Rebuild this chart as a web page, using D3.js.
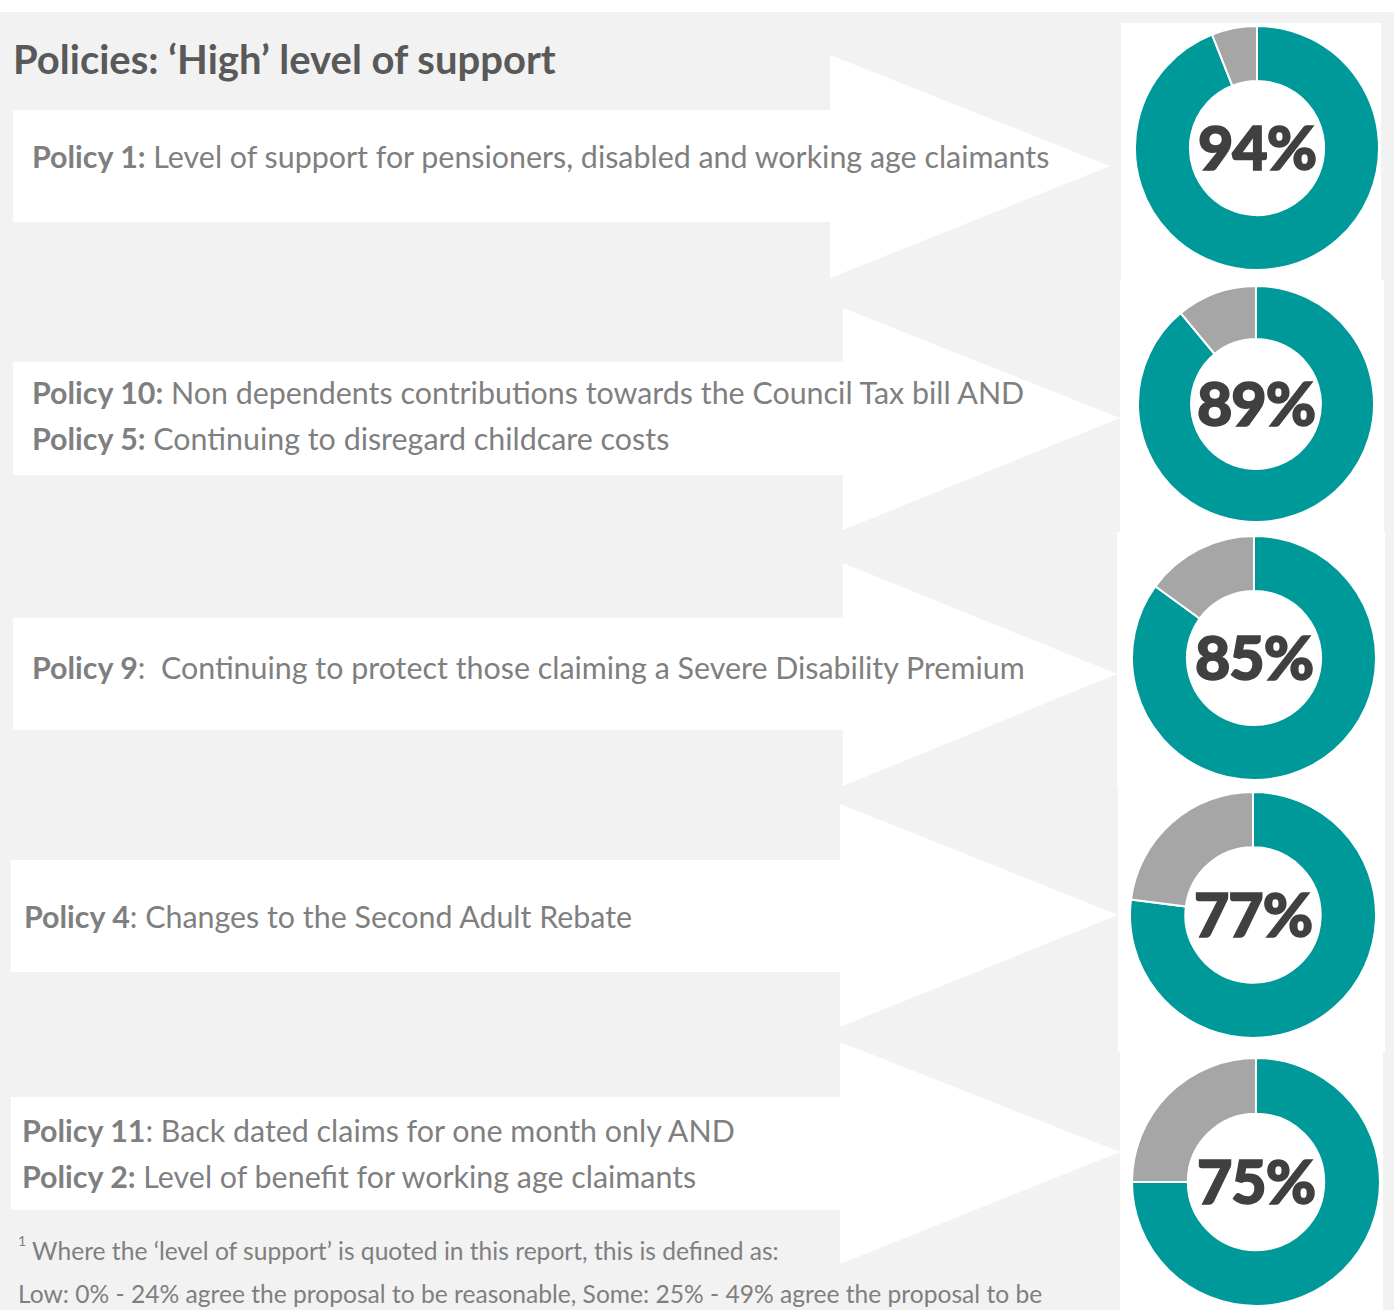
<!DOCTYPE html>
<html>
<head>
<meta charset="utf-8">
<script src="https://cdn.jsdelivr.net/npm/d3@7"></script>
<style>
  body { margin: 0; background: #fff; }
  svg { display: block; }
  text { font-family: Lato, "Open Sans", sans-serif; white-space: pre; }
</style>
</head>
<body>
<div id="chart"></div>
<script>
// data
const title = "Policies: \u2018High\u2019 level of support";
const policyBold = [
  ["Policy 1:"],
  ["Policy 10:", "Policy 5:"],
  ["Policy 9"],
  ["Policy 4"],
  ["Policy 11", "Policy 2:"]
];
const policyText = [
  [" Level of support for pensioners, disabled and working age claimants"],
  [" Non dependents contributions towards the Council Tax bill AND", " Continuing to disregard childcare costs"],
  [":  Continuing to protect those claiming a Severe Disability Premium"],
  [": Changes to the Second Adult Rebate"],
  [": Back dated claims for one month only AND", " Level of benefit for working age claimants"]
];
const highSupport = [94, 89, 85, 77, 75];
const footnoteLines = [
  "Where the \u2018level of support\u2019 is quoted in this report, this is defined as:",
  "Low: 0% - 24% agree the proposal to be reasonable, Some: 25% - 49% agree the proposal to be"
];

// layout of each row (arrow shape, text, donut)
const rows = [
  { bx0: 13, bx1: 830, by0: 110, by1: 222, hy0: 55,   hy1: 278,  tipX: 1110, tipY: 166,  tx: 32, ty: [157],        cx: 1257, cy: 148,  r: 122, box: [1121, 23, 1381, 280] },
  { bx0: 13, bx1: 843, by0: 362, by1: 475, hy0: 308,  hy1: 530,  tipX: 1120, tipY: 418,  tx: 32, ty: [393, 439],   cx: 1256, cy: 404,  r: 118, box: [1120, 280, 1384, 532] },
  { bx0: 13, bx1: 843, by0: 618, by1: 730, hy0: 563,  hy1: 786,  tipX: 1117, tipY: 674,  tx: 32, ty: [668],        cx: 1254, cy: 658,  r: 122, box: [1117, 532, 1385, 787] },
  { bx0: 11, bx1: 840, by0: 860, by1: 972, hy0: 804,  hy1: 1027, tipX: 1118, tipY: 915,  tx: 24, ty: [917],        cx: 1253, cy: 915,  r: 123, box: [1118, 787, 1385, 1052] },
  { bx0: 11, bx1: 840, by0: 1097, by1: 1210, hy0: 1042, hy1: 1264, tipX: 1120, tipY: 1152, tx: 22, ty: [1131, 1177], cx: 1256, cy: 1182, r: 124, box: [1120, 1052, 1383, 1310] }
];

const width = 1394, height = 1310;
const teal = "#009999", grey = "#a6a6a6";

const svg = d3.select("#chart").append("svg")
  .attr("width", width)
  .attr("height", height);

// grey panel
svg.append("rect")
  .attr("x", 0).attr("y", 12)
  .attr("width", width).attr("height", height - 12)
  .attr("fill", "#f2f2f2");

// white boxes behind the donuts
svg.append("g").selectAll("rect")
  .data(rows)
  .join("rect")
  .attr("x", d => d.box[0]).attr("y", d => d.box[1])
  .attr("width", d => d.box[2] - d.box[0])
  .attr("height", d => d.box[3] - d.box[1])
  .attr("fill", "#fff");

// block arrows
const arrowPath = d => d3.line()([
  [d.bx0, d.by0], [d.bx1, d.by0], [d.bx1, d.hy0], [d.tipX, d.tipY],
  [d.bx1, d.hy1], [d.bx1, d.by1], [d.bx0, d.by1]
]) + "Z";

svg.append("g").selectAll("path")
  .data(rows)
  .join("path")
  .attr("d", arrowPath)
  .attr("fill", "#fff");

// title
svg.append("text")
  .attr("x", 13).attr("y", 59)
  .attr("dominant-baseline", "central")
  .attr("font-size", 40)
  .attr("font-weight", "bold")
  .attr("fill", "#595959")
  .text(title);

// policy labels
rows.forEach((row, i) => {
  policyBold[i].forEach((b, j) => {
    const t = svg.append("text")
      .attr("x", row.tx).attr("y", row.ty[j] - 1)
      .attr("dominant-baseline", "central")
      .attr("font-size", 30.4)
      .attr("fill", "#7f7f7f");
    t.append("tspan").attr("font-weight", "bold").text(b);
    t.append("tspan").text(policyText[i][j]);
  });
});

// donuts
const pie = d3.pie().sort(null).value(d => d);
highSupport.forEach((v, i) => {
  const row = rows[i];
  const arc = d3.arc().innerRadius(row.r * 0.55).outerRadius(row.r);
  const g = svg.append("g").attr("transform", `translate(${row.cx},${row.cy})`);
  g.selectAll("path")
    .data(pie([v, 100 - v]))
    .join("path")
    .attr("d", arc)
    .attr("fill", (d, k) => k === 0 ? teal : grey)
    .attr("stroke", "#fff")
    .attr("stroke-width", 2);
  g.append("text")
    .attr("text-anchor", "middle")
    .attr("dominant-baseline", "central")
    .attr("y", -2)
    .attr("font-size", 61)
    .attr("font-weight", 900)
    .attr("fill", "#404040")
    .attr("stroke", "#404040")
    .attr("stroke-width", 1.6)
    .attr("letter-spacing", -1)
    .text(v + "%");
});

// footnote
const fn = svg.append("text")
  .attr("x", 18).attr("y", 1250)
  .attr("dominant-baseline", "central")
  .attr("font-size", 24.6)
  .attr("fill", "#7f7f7f");
fn.append("tspan").attr("font-size", 14).attr("dy", -10).text("1");
fn.append("tspan").attr("dy", 10).text(" " + footnoteLines[0]);

svg.append("text")
  .attr("x", 18).attr("y", 1293)
  .attr("dominant-baseline", "central")
  .attr("font-size", 24.6)
  .attr("fill", "#7f7f7f")
  .text(footnoteLines[1]);
</script>
</body>
</html>
